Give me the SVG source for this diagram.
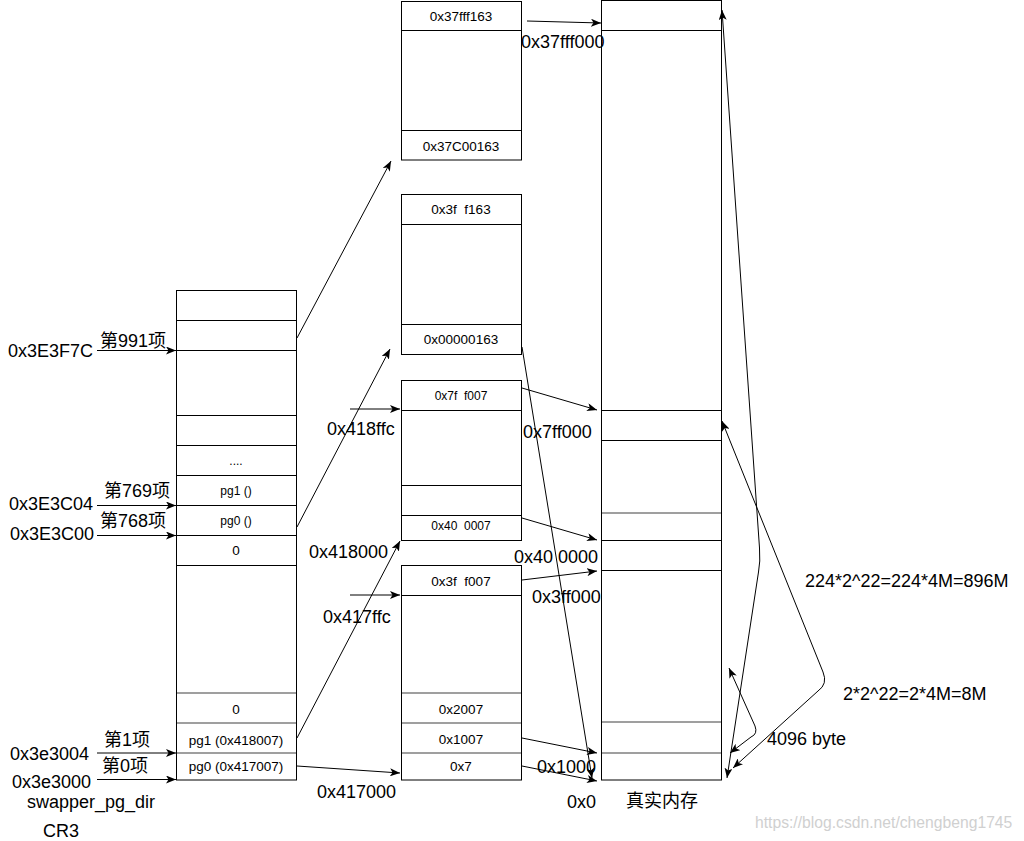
<svg xmlns="http://www.w3.org/2000/svg" width="1024" height="841" viewBox="0 0 1024 841">
<style>
.box{fill:#fff;stroke:#000;stroke-width:1}
.ln{stroke:#000;stroke-width:1;fill:none}
.gl{stroke:#808080;stroke-width:1.5;fill:none}
.c{fill:none;stroke:#000;stroke-width:1;marker-end:url(#a)}
.d{fill:none;stroke:#000;stroke-width:1;marker-start:url(#a);marker-end:url(#a)}
text{font-family:"Liberation Sans",Arial,sans-serif;fill:#000}
.lb{font-size:18px}
.cl{font-size:13.5px;text-anchor:middle}
.cs{font-size:12px;text-anchor:middle}
.zh{font-family:"Liberation Sans","Noto Sans CJK SC",sans-serif;font-size:18px}
.wm{font-size:15.7px;fill:#d0d0d0}
</style>
<defs>
<marker id="a" viewBox="0 0 10 8" refX="10" refY="4" markerWidth="10" markerHeight="8" markerUnits="userSpaceOnUse" orient="auto-start-reverse"><path d="M0,0 L10,4 L0,8 L2.5,4 z" fill="#000"/></marker>
</defs>
<rect width="1024" height="841" fill="#fff"/>

<g id="pgdir">
<rect class="box" x="176.5" y="290.5" width="120" height="489.5"/>
<path class="ln" d="M176,320.5H297M176,350.5H297M176,415.5H297M176,445.5H297M176,475.5H297M176,505.5H297M176,535.5H297M176,565.5H297"/>
<path class="gl" d="M177,693H296M177,723H296M177,753H296"/>
<text class="cs" x="236" y="465">....</text>
<text class="cs" x="236" y="495">pg1 ()</text>
<text class="cs" x="236" y="525">pg0 ()</text>
<text class="cl" x="236" y="555">0</text>
<text class="cl" x="236" y="714">0</text>
<text class="cl" x="236" y="745">pg1 (0x418007)</text>
<text class="cl" x="236" y="771">pg0 (0x417007)</text>
</g>

<g id="t1">
<rect class="box" x="401.5" y="1.5" width="120" height="158.5"/>
<path class="ln" d="M401,30.5H522M401,130.5H522"/>
<text class="cl" x="461" y="20.5">0x37fff163</text>
<text class="cl" x="461" y="150.5">0x37C00163</text>
</g>

<g id="t2">
<rect class="box" x="401.5" y="194.5" width="120" height="160"/>
<path class="ln" d="M401,224.5H522M401,324.5H522"/>
<text class="cl" x="461" y="214" xml:space="preserve">0x3f  f163</text>
<text class="cl" x="461" y="344">0x00000163</text>
</g>

<g id="t3">
<rect class="box" x="401.5" y="380.5" width="120" height="160"/>
<path class="ln" d="M401,410.5H522M401,485.5H522M401,515.5H522"/>
<text class="cs" x="461" y="400" xml:space="preserve">0x7f  f007</text>
<text class="cs" x="461" y="530" xml:space="preserve">0x40  0007</text>
</g>

<g id="t4">
<rect class="box" x="401.5" y="565.5" width="120" height="214.5"/>
<path class="ln" d="M401,595.5H522"/>
<path class="gl" d="M402,693H521M402,723H521M402,753H521"/>
<text class="cl" x="461" y="585.5" xml:space="preserve">0x3f  f007</text>
<text class="cl" x="461" y="714">0x2007</text>
<text class="cl" x="461" y="744">0x1007</text>
<text class="cl" x="461" y="770.5">0x7</text>
</g>

<g id="mem">
<rect class="box" x="601.5" y="0.5" width="120" height="779.5"/>
<path class="ln" d="M601,30.5H722M601,410.5H722M601,440.5H722M601,540.5H722M601,570.5H722"/>
<path class="gl" d="M602,513H721M602,722H721M602,753H721"/>
</g>

<g id="connectors">
<path class="c" d="M97,350.5H176"/>
<path class="c" d="M97,505.5H176"/>
<path class="c" d="M97,535.5H176"/>
<path class="c" d="M97,753H176"/>
<path class="c" d="M97,779.5H176"/>
<path class="c" d="M297,338L391,161"/>
<path class="c" d="M297,527L390,349"/>
<path class="c" d="M297,738L400,541"/>
<path class="c" d="M297,766L400,773"/>
<path class="c" d="M350,409H400"/>
<path class="c" d="M350,595H400"/>
<path class="c" d="M527,21L601,23"/>
<path class="c" d="M522,388L597,410"/>
<path class="c" d="M522,518L597,540"/>
<path class="c" d="M522,580L597,571"/>
<path class="c" d="M522,738L597,753"/>
<path class="c" d="M522,766L597,781"/>
<path class="c" d="M522,347L592,778"/>
<path class="d" d="M722,10L759.5,548Q760.5,562 758.5,572L727,778"/>
<path class="d" d="M722,421L823,672Q828,684 818,691L733,768"/>
<path class="d" d="M729,668L755,726Q758,734 751,737L730,753"/>
</g>

<g id="labels">
<text class="lb" x="521" y="48">0x37fff000</text>
<text class="lb" x="8" y="357">0x3E3F7C</text>
<text class="zh" x="100" y="347">第991项</text>
<text class="lb" x="9" y="510">0x3E3C04</text>
<text class="zh" x="104" y="497">第769项</text>
<text class="lb" x="10" y="540">0x3E3C00</text>
<text class="zh" x="100" y="527">第768项</text>
<text class="lb" x="10" y="760">0x3e3004</text>
<text class="zh" x="104" y="746">第1项</text>
<text class="lb" x="12" y="788">0x3e3000</text>
<text class="zh" x="102" y="772">第0项</text>
<text class="lb" x="27" y="808">swapper_pg_dir</text>
<text class="lb" x="43" y="837">CR3</text>
<text class="lb" x="317" y="798">0x417000</text>
<text class="lb" x="327" y="435">0x418ffc</text>
<text class="lb" x="309" y="558">0x418000</text>
<text class="lb" x="323" y="623">0x417ffc</text>
<text class="lb" x="523" y="438">0x7ff000</text>
<text class="lb" x="514" y="563">0x40 0000</text>
<text class="lb" x="532" y="603">0x3ff000</text>
<text class="lb" x="537" y="773">0x1000</text>
<text class="lb" x="567" y="808">0x0</text>
<text class="zh" x="626" y="807">真实内存</text>
<text class="lb" x="805" y="587">224*2^22=224*4M=896M</text>
<text class="lb" x="843" y="700">2*2^22=2*4M=8M</text>
<text class="lb" x="767" y="745">4096 byte</text>
<text class="wm" x="755" y="828">https://blog.csdn.net/chengbeng1745</text>
</g>
</svg>
